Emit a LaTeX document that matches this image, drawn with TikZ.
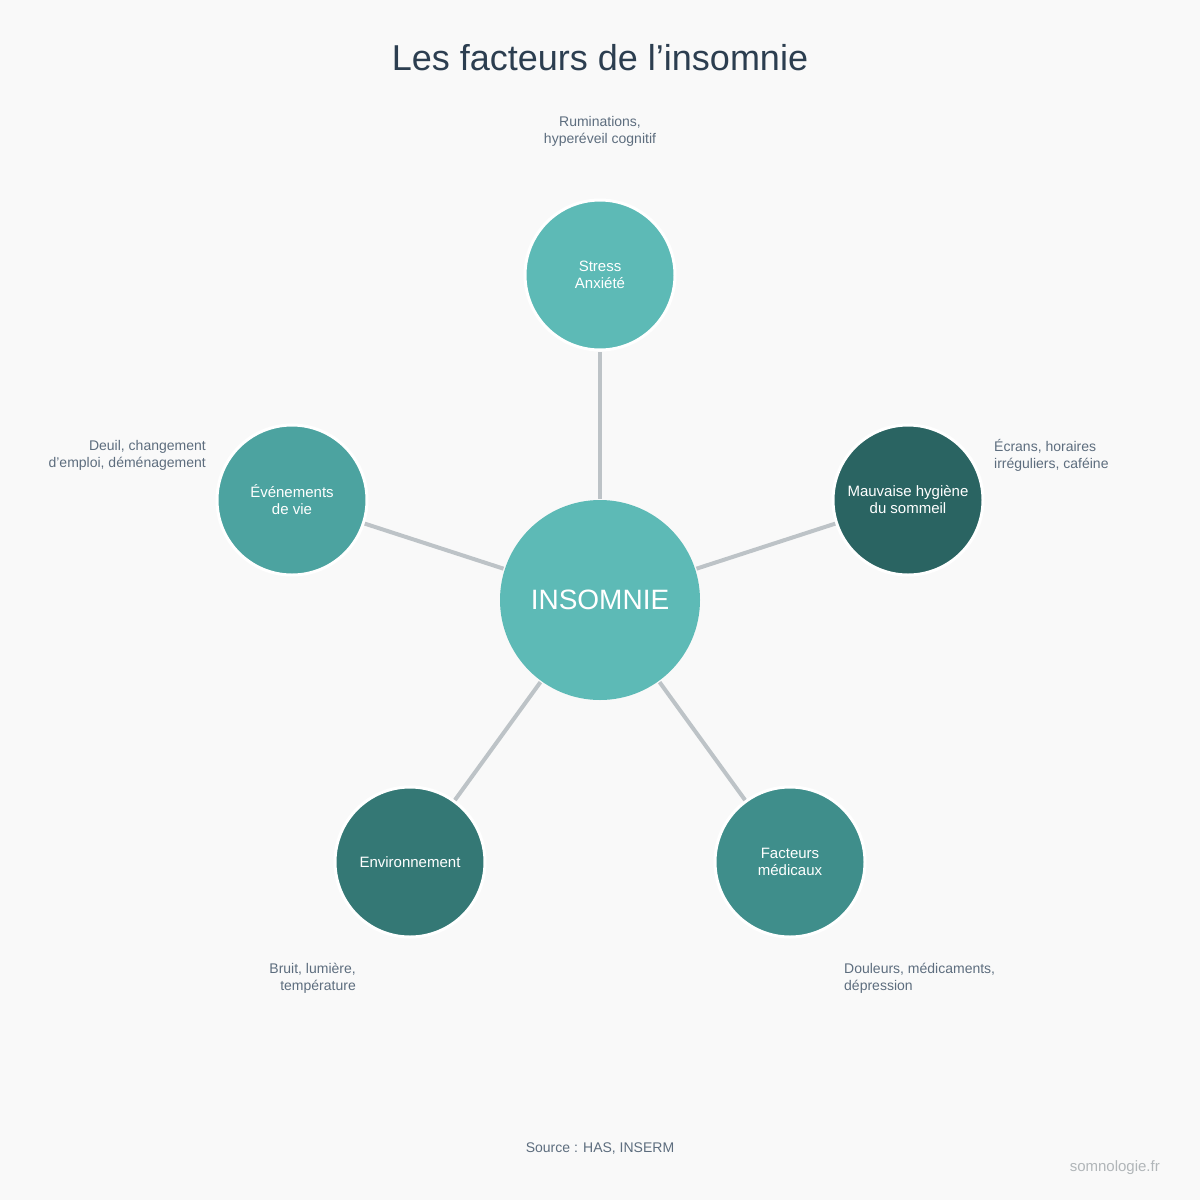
\documentclass[tikz,border=0pt]{standalone}
\usepackage{fontspec}
\setmainfont{Liberation Sans}
\definecolor{bgcol}{HTML}{F9F9F9}
\definecolor{titlecol}{HTML}{2C3E50}
\definecolor{notecol}{HTML}{5D6D7E}
\definecolor{linkcol}{HTML}{BDC3C7}
\definecolor{colcenter}{HTML}{5DBAB6}
\definecolor{colstress}{HTML}{5DBAB6}
\definecolor{colevent}{HTML}{4CA3A0}
\definecolor{colhygiene}{HTML}{2A6462}
\definecolor{colenv}{HTML}{347875}
\definecolor{colmed}{HTML}{3F8E8B}
\tikzset{
  factor/.style={circle,draw=white,line width=3pt,minimum size=150pt,inner sep=0pt,
    text=white,align=center,font=\fontsize{15}{17}\selectfont},
  note/.style={text=notecol,font=\fontsize{14}{17}\selectfont,inner sep=0pt},
  link/.style={draw=linkcol,line width=4pt}
}
\begin{document}
\begin{tikzpicture}[x=1pt,y=-1pt]
  \fill[bgcol] (0,0) rectangle (1200,1200);
  \useasboundingbox (0,0) rectangle (1200,1200);

  \node[text=titlecol,font=\fontsize{36}{40}\selectfont] (title) at (600,58) {Les facteurs de l'insomnie};

  \node[factor,minimum size=200pt,draw=none,fill=colcenter,font=\fontsize{28}{32}\selectfont] (center) at (600,600) {INSOMNIE};
  \node[factor,fill=colstress] (stress) at (600,275) {Stress\\Anxiété};
  \node[factor,fill=colhygiene] (hygiene) at (908,500) {Mauvaise hygiène\\du sommeil};
  \node[factor,fill=colmed] (medical) at (790,862) {Facteurs\\médicaux};
  \node[factor,fill=colenv] (environment) at (410,862) {Environnement};
  \node[factor,fill=colevent] (events) at (292,500) {Événements\\de vie};

  \begin{scope}[on background layer/.style={}]
  \foreach \f in {stress,hygiene,medical,environment,events}
  \path[link] (center) -- (\f);
  \end{scope}

  \node[note,align=center] (stressnote) at (600,131) {Ruminations,\\hyperéveil cognitif};
  \node[note,align=left,anchor=west] (hygienenote) at (994,455) {Écrans, horaires\\irréguliers, caféine};
  \node[note,align=left,anchor=west] (mednote) at (844,978) {Douleurs, médicaments,\\dépression};
  \node[note,align=right,anchor=east] (envnote) at (356,978) {Bruit, lumière,\\température};
  \node[note,align=right,anchor=east] (eventnote) at (206,455) {Deuil, changement\\d'emploi, déménagement};

  \node[note] (source) at (600,1148) {Source : HAS, INSERM};
  \node[note,text=linkcol!80!gray,font=\fontsize{15}{17}\selectfont,anchor=east] (brand) at (1160,1168) {somnologie.fr};
\end{tikzpicture}
\end{document}
